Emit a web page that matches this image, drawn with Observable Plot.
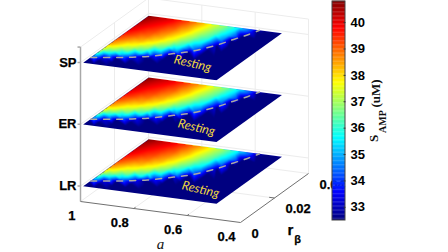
<!DOCTYPE html>
<html><head><meta charset="utf-8">
<script src="https://cdn.jsdelivr.net/npm/d3@7"></script>
<script src="https://cdn.jsdelivr.net/npm/@observablehq/plot@0.6"></script>
<style>
html,body{margin:0;padding:0;background:#fff}
#c{position:relative;width:448px;height:252px;overflow:hidden}
#c svg{position:absolute;left:0;top:0;background:transparent}
</style></head><body><div id="c"></div>
<script>
const aGrid=[0.99,0.95,0.9,0.85,0.8,0.75,0.7,0.65,0.6,0.55,0.49];
const rGrid=[0,0.003,0.006,0.009,0.012,0.016,0.02,0.024,0.028,0.032,0.036,0.0385];
const ampRows=[
[32.5,32.5,35.0,36.6,37.5,38.5,39.1,39.6,40.0,40.3,40.6,40.8],
[32.5,32.5,33.4,35.6,36.9,37.9,38.6,39.2,39.6,39.9,40.2,40.4],
[32.5,32.5,32.5,34.9,36.4,37.4,38.2,38.8,39.2,39.5,39.8,40.0],
[32.5,32.5,32.5,33.5,35.6,36.8,37.6,38.2,38.6,39.0,39.2,39.4],
[32.5,32.5,32.5,32.5,33.9,35.9,36.8,37.4,37.8,38.2,38.4,38.6],
[32.5,32.5,32.5,32.5,32.5,34.4,35.7,36.4,36.9,37.2,37.5,37.6],
[32.5,32.5,32.5,32.5,32.5,32.5,34.5,35.4,36.0,36.3,36.6,36.7],
[32.5,32.5,32.5,32.5,32.5,32.5,32.5,33.3,34.6,35.1,35.4,35.5],
[32.5,32.5,32.5,32.5,32.5,32.5,32.5,32.5,32.5,32.5,33.9,34.1],
[32.5,32.5,32.5,32.5,32.5,32.5,32.5,32.5,32.5,32.5,32.5,32.5],
[32.5,32.5,32.5,32.5,32.5,32.5,32.5,32.5,32.5,32.5,32.5,32.5]];
const restA=[0.99,0.905,0.814,0.744,0.699,0.641,0.616,0.59,0.574];
const restR=[0.0044,0.0068,0.0102,0.0146,0.0176,0.0249,0.0298,0.0346,0.0385];
const restEdgeAmp=[33.2,33.2,33.2,33.2,33.2,33.1,33.1,33.0,32.9];
const restBelowR=[0.0033,0.0057,0.0091,0.0135,0.0165,0.0238,0.0287,0.0335,0.0374];
const restAboveR=[0.0062,0.0086,0.012,0.0164,0.0194,0.0267,0.0316,0.0364,0.0385];
const restAboveAmp=[35.1,35.0,34.9,34.8,34.6,34.2,33.9,33.5,32.9];
const tiers=["LR","ER","SP"];
const tierLevel=[1,2,3];
const restingA=[0.604,0.618,0.64];
const restingR=[0.0085,0.0083,0.0095];
const aTicks=[1,0.8,0.6,0.4];
const rTicks=[0,0.02,0.04];
const rTickLabels=["0","0.02","0.04"];
const cTicks=[33,34,35,36,37,38,39,40];
const jet=["#000080","#0000ff","#00ffff","#ffff00","#ff0000","#800000"];
const cDomain=[32.5,40.8];

const zpx=k=>k===0.75?0:15.5+(k-1)*61.75;
const px=(a,r)=>80+(1-a)/0.6*160+r/0.04*68;
const py=(a,r,k)=>201+(1-a)/0.6*21-r/0.04*49-zpx(k);
const edge=(a1,r1,k1,a2,r2,k2)=>({x1:px(a1,r1),y1:py(a1,r1,k1),x2:px(a2,r2),y2:py(a2,r2,k2)});
const T=3.25,B=0.75,R=0.04;

const wall=[
 edge(1,R,T,0.4,R,T),edge(1,0,T,1,R,T),edge(1,R,B,1,R,T),edge(0.4,R,B,0.4,R,T),
 edge(1,R,B,0.4,R,B),edge(1,0,B,1,R,B),
 edge(1,0.02,B,1,0.02,T),edge(0.8,R,B,0.8,R,T),edge(0.6,R,B,0.6,R,T),
 edge(0.8,0,B,0.8,R,B),edge(0.6,0,B,0.6,R,B),edge(1,0.02,B,0.4,0.02,B),
 ...tierLevel.flatMap(k=>[edge(1,0,k,1,R,k),edge(1,R,k,0.4,R,k)])
];
const axes=[edge(1,0,B,0.4,0,B),edge(0.4,0,B,0.4,R,B),
 edge(0.8,0,B,0.8,0.001,B),edge(0.6,0,B,0.6,0.001,B),
 edge(0.4,0.02,B,0.42,0.02,B)];
const zAxis=[edge(1,0,B,1,0,T),
 ...tierLevel.map(k=>({x1:px(1,0)-3,y1:py(1,0,k),x2:px(1,0),y2:py(1,0,k)})),
 {x1:px(1,0)-3,y1:py(1,0,T),x2:px(1,0),y2:py(1,0,T)}];

const grid=k=>[
 ...aGrid.flatMap((a,i)=>rGrid.map((r,j)=>({x:px(a,r),y:py(a,r,k),v:ampRows[i][j]}))),
 ...restA.map((a,i)=>({x:px(a,restR[i]),y:py(a,restR[i],k),v:restEdgeAmp[i]})),
 ...restA.map((a,i)=>({x:px(a,restBelowR[i]),y:py(a,restBelowR[i],k),v:32.5})),
 ...restA.slice(0,8).map((a,i)=>({x:px(a,restAboveR[i]),y:py(a,restAboveR[i],k),v:restAboveAmp[i]}))
];
const planeMark=k=>Plot.raster(grid(k),{x:"x",y:"y",fill:"v",interpolate:"barycentric",pixelSize:1,
 render(index,scales,values,dims,ctx,next){const g=next(index,scales,values,dims,ctx);g.setAttribute("clip-path",`url(#plane${k})`);return g;}});
const restLine=k=>Plot.line(restA.map((a,i)=>({x:px(a,restR[i]),y:py(a,restR[i],k)})),
 {x:"x",y:"y",stroke:"#a9a9a2",strokeWidth:1.5,strokeDasharray:"6,7",curve:"catmull-rom"});

const bold={fontFamily:"Liberation Sans",fontWeight:"bold",fontSize:13,fill:"#000",stroke:"#000",strokeWidth:0.25};
const main=Plot.plot({width:448,height:252,margin:0,
 x:{domain:[0,448],range:[0,448],axis:null},
 y:{domain:[0,252],range:[0,252],axis:null},
 color:{type:"linear",domain:[0,0.125,0.375,0.625,0.875,1].map(t=>t*(cDomain[1]-cDomain[0])+cDomain[0]),range:jet},
 marks:[
  Plot.link(wall,{x1:"x1",y1:"y1",x2:"x2",y2:"y2",stroke:"#ececec",strokeWidth:1}),
  Plot.link(zAxis,{x1:"x1",y1:"y1",x2:"x2",y2:"y2",stroke:"#a8a8a8",strokeWidth:1.5}),
  Plot.link(axes,{x1:"x1",y1:"y1",x2:"x2",y2:"y2",stroke:"#707070",strokeWidth:1}),
  ...tierLevel.flatMap((k,i)=>[
   planeMark(k),
   restLine(k),
   Plot.text(["Resting"],{x:px(restingA[i],restingR[i]),y:py(restingA[i],restingR[i],k),text:d=>d,rotate:13,fontFamily:"Lato",fontStyle:"italic",fontSize:12.5,fill:"#f0d840"}),
   Plot.text([tiers[i]],{x:px(1,0)-3,y:py(1,0,k),text:d=>d,textAnchor:"end",dx:-1,...bold})
  ]),
  Plot.text(aTicks,{x:a=>px(a,0),y:a=>py(a,0,B),text:d=>String(d),textAnchor:"end",dx:-5,dy:14,...bold}),
  Plot.text(rTicks,{x:r=>px(0.4,r),y:r=>py(0.4,r,B),text:(d,i)=>rTickLabels[i],textAnchor:"start",dx:11,dy:11,...bold}),
  Plot.text(["a"],{x:160,y:243.5,text:d=>d,fontFamily:"Liberation Serif",fontStyle:"italic",fontSize:15,fill:"#111"}),
  Plot.text(["r"],{x:290,y:230,text:d=>d,...bold,fontSize:15}),
  Plot.text(["β"],{x:297,y:239,text:d=>d,...bold,fontSize:11}),
  Plot.text(["S"],{x:373,y:138,text:d=>d,rotate:-90,fontFamily:"Liberation Serif",fontWeight:"bold",fontSize:13,fill:"#111"}),
  Plot.text(["AMP"],{x:382,y:121,text:d=>d,rotate:-90,fontFamily:"Liberation Serif",fontWeight:"bold",fontSize:10,fill:"#111"}),
  Plot.text(["(uM)"],{x:375,y:93,text:d=>d,rotate:-90,fontFamily:"Liberation Serif",fontWeight:"bold",fontSize:13,fill:"#111"})
 ]});
const ns="http://www.w3.org/2000/svg";
const defs=document.createElementNS(ns,"defs");
tierLevel.forEach(k=>{
 const cp=document.createElementNS(ns,"clipPath");cp.setAttribute("id","plane"+k);
 const poly=document.createElementNS(ns,"polygon");
 const a0=aGrid[0],a1=aGrid[aGrid.length-1],r1=rGrid[rGrid.length-1];
 poly.setAttribute("points",[[a0,0],[a1,0],[a1,r1],[a0,r1]].map(([a,r])=>px(a,r)+","+py(a,r,k)).join(" "));
 cp.appendChild(poly);defs.appendChild(cp);
});
main.insertBefore(defs,main.firstChild);
document.getElementById("c").appendChild(main);

const step=0.05;
const bar=Plot.plot({width:448,height:252,marginLeft:332,marginRight:103,marginTop:1,marginBottom:32,
 x:{domain:[0,1],axis:null},
 y:{domain:cDomain,axis:null},
 color:{type:"linear",domain:[0,0.125,0.375,0.625,0.875,1].map(t=>t*(cDomain[1]-cDomain[0])+cDomain[0]),range:jet},
 marks:[
  Plot.rect(d3.range(cDomain[0],cDomain[1],step),{x1:0,x2:1,y1:d=>d,y2:d=>d+step+0.01,fill:d=>d}),
  Plot.rect([0],{x1:0,x2:1,y1:cDomain[0],y2:cDomain[1],stroke:"#444",fill:"none",strokeWidth:1}),
  Plot.link(cTicks,{x1:0.85,x2:1,y1:d=>d,y2:d=>d,stroke:"#333"}),
  Plot.axisY(cTicks,{anchor:"right",tickSize:0,tickPadding:5,fontFamily:"Liberation Sans",fontWeight:"bold",fontSize:13,fill:"#000",stroke:"#000",strokeWidth:0.25,label:null})
 ]});
document.getElementById("c").appendChild(bar);
</script></body></html>
